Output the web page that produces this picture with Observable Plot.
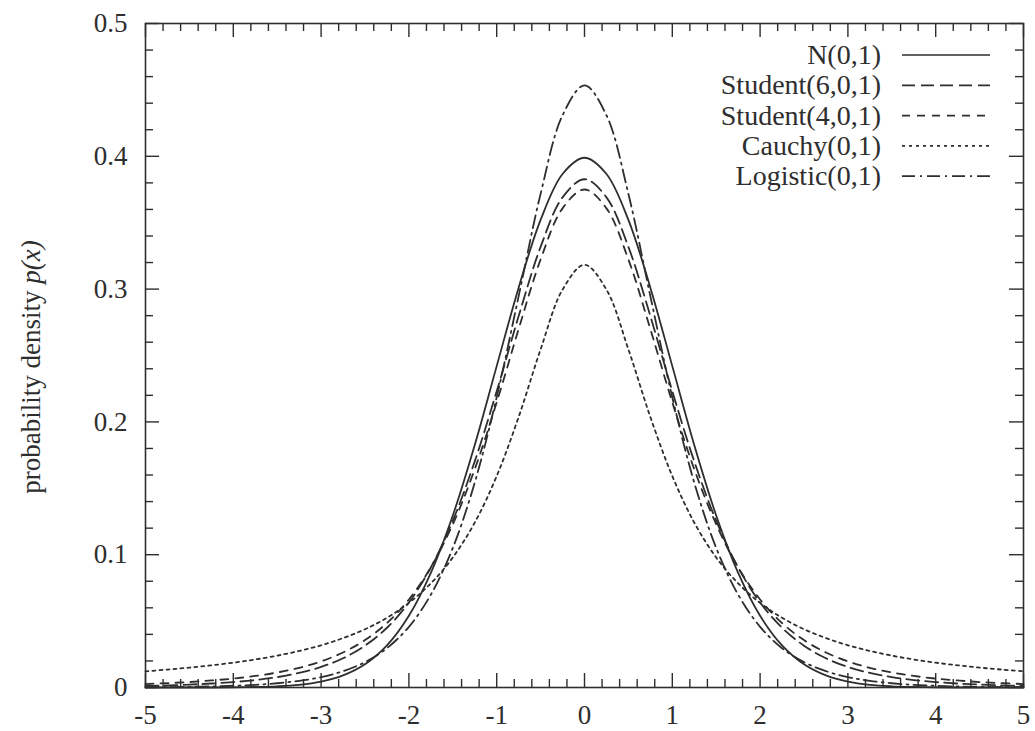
<!DOCTYPE html>
<html>
<head>
<meta charset="utf-8">
<script src="https://cdn.jsdelivr.net/npm/d3@7"></script>
<script src="https://cdn.jsdelivr.net/npm/@observablehq/plot@0.6"></script>
<style>
  body { margin: 0; background: #fff; }
  #chart svg { display: block; }
</style>
</head>
<body>
<div id="chart"></div>
<script>
// x positions of the sampled curve points
const xs = [-5,-4.75,-4.5,-4.25,-4,-3.75,-3.5,-3.25,-3,-2.75,-2.5,-2.25,-2,-1.75,-1.5,-1.25,-1,-0.75,-0.5,-0.25,
  0,0.25,0.5,0.75,1,1.25,1.5,1.75,2,2.25,2.5,2.75,3,3.25,3.5,3.75,4,4.25,4.5,4.75,5];

// densities
const normal = [0.0000,0.0000,0.0000,0.0000,0.0001,0.0004,0.0009,0.0020,0.0044,0.0091,0.0175,0.0317,0.0540,0.0863,0.1295,0.1826,0.2420,0.3011,0.3521,0.3867,
  0.3989,0.3867,0.3521,0.3011,0.2420,0.1826,0.1295,0.0863,0.0540,0.0317,0.0175,0.0091,0.0044,0.0020,0.0009,0.0004,0.0001,0.0000,0.0000,0.0000,0.0000];
const student6 = [0.0012,0.0016,0.0022,0.0030,0.0041,0.0056,0.0078,0.0110,0.0155,0.0220,0.0315,0.0450,0.0640,0.0904,0.1256,0.1703,0.2231,0.2797,0.3318,0.3691,
  0.3827,0.3691,0.3318,0.2797,0.2231,0.1703,0.1256,0.0904,0.0640,0.0450,0.0315,0.0220,0.0155,0.0110,0.0078,0.0056,0.0041,0.0030,0.0022,0.0016,0.0012];
const student4 = [0.0026,0.0033,0.0041,0.0053,0.0067,0.0087,0.0113,0.0148,0.0197,0.0264,0.0357,0.0485,0.0663,0.0905,0.1229,0.1644,0.2147,0.2699,0.3223,0.3608,
  0.3750,0.3608,0.3223,0.2699,0.2147,0.1644,0.1229,0.0905,0.0663,0.0485,0.0357,0.0264,0.0197,0.0148,0.0113,0.0087,0.0067,0.0053,0.0041,0.0033,0.0026];
const cauchy = [0.0122,0.0135,0.0150,0.0167,0.0187,0.0211,0.0240,0.0275,0.0318,0.0372,0.0439,0.0525,0.0637,0.0784,0.0979,0.1242,0.1592,0.2037,0.2546,0.2996,
  0.3183,0.2996,0.2546,0.2037,0.1592,0.1242,0.0979,0.0784,0.0637,0.0525,0.0439,0.0372,0.0318,0.0275,0.0240,0.0211,0.0187,0.0167,0.0150,0.0135,0.0122];
const logistic = [0.0002,0.0003,0.0005,0.0008,0.0013,0.0020,0.0032,0.0050,0.0078,0.0123,0.0191,0.0296,0.0457,0.0699,0.1051,0.1543,0.2186,0.2947,0.3717,0.4309,
  0.4534,0.4309,0.3717,0.2947,0.2186,0.1543,0.1051,0.0699,0.0457,0.0296,0.0191,0.0123,0.0078,0.0050,0.0032,0.0020,0.0013,0.0008,0.0005,0.0003,0.0002];

const seriesNames = ["N(0,1)", "Student(6,0,1)", "Student(4,0,1)", "Cauchy(0,1)", "Logistic(0,1)"];
const seriesValues = [normal, student6, student4, cauchy, logistic];
const seriesDash = [null, "13,6", "8,7", "3,4", "13,5,2,5"];

// tick values
const xTicks = [-5,-4,-3,-2,-1,0,1,2,3,4,5];
const yTicks = [0,0.1,0.2,0.3,0.4,0.5];
const xMinor = d3.range(-50, 51, 2).filter(d => d % 10 !== 0).map(d => d / 10);
const yMinor = d3.range(0, 51, 2).filter(d => d % 10 !== 0).map(d => d / 100);

const W = 1035, H = 731;
const mL = 145, mR = 12, mT = 23, mB = 44;
const plotW = W - mL - mR, plotH = H - mT - mB;
const ink = "#2e2e2e";
const major = 14, minor = 8;

const rows = seriesNames.flatMap((name, i) =>
  xs.map((x, j) => ({series: name, x, y: seriesValues[i][j]})));

const lineMarks = seriesNames.map((name, i) =>
  Plot.line(rows.filter(d => d.series === name), {
    x: "x", y: "y", stroke: ink, strokeWidth: 1.8,
    strokeDasharray: seriesDash[i] ?? undefined,
    curve: "catmull-rom"
  }));

const chart = Plot.plot({
  width: W, height: H,
  marginLeft: mL, marginRight: mR, marginTop: mT, marginBottom: mB,
  style: {fontFamily: "'Liberation Serif', 'DejaVu Serif', serif", fontSize: "27px", color: ink, background: "#fff"},
  x: {domain: [-5, 5]},
  y: {domain: [0, 0.5]},
  marks: [
    Plot.frame({stroke: ink, strokeWidth: 1.6}),
    Plot.ruleX(xTicks, {stroke: ink, strokeWidth: 1.4, insetTop: plotH - major}),
    Plot.ruleX(xTicks, {stroke: ink, strokeWidth: 1.4, insetBottom: plotH - major}),
    Plot.ruleX(xMinor, {stroke: ink, strokeWidth: 1.4, insetTop: plotH - minor}),
    Plot.ruleX(xMinor, {stroke: ink, strokeWidth: 1.4, insetBottom: plotH - minor}),
    Plot.ruleY(yTicks, {stroke: ink, strokeWidth: 1.4, insetRight: plotW - major}),
    Plot.ruleY(yTicks, {stroke: ink, strokeWidth: 1.4, insetLeft: plotW - major}),
    Plot.ruleY(yMinor, {stroke: ink, strokeWidth: 1.4, insetRight: plotW - minor}),
    Plot.ruleY(yMinor, {stroke: ink, strokeWidth: 1.4, insetLeft: plotW - minor}),
    Plot.axisX({ticks: xTicks, tickSize: 0, tickPadding: 17, tickFormat: d => String(d), fontSize: 27, fill: ink, label: null}),
    Plot.axisY({ticks: yTicks, tickSize: 0, tickPadding: 18, tickFormat: d => String(d), fontSize: 27, fill: ink, label: null}),
    ...lineMarks
  ]
});

document.getElementById("chart").append(chart);

// y-axis title and in-frame legend
const svg = d3.select(chart);
const ylab = svg.append("text")
  .attr("transform", "translate(40,367) rotate(-90)")
  .attr("text-anchor", "middle")
  .attr("font-size", 27)
  .attr("fill", ink);
ylab.append("tspan").text("probability density ");
ylab.append("tspan").attr("font-style", "italic").text("p(x)");

const legend = svg.append("g");
seriesNames.forEach((name, i) => {
  const cy = 55 + i * 30.3;
  legend.append("text")
    .attr("x", 881).attr("y", cy + 9)
    .attr("text-anchor", "end")
    .attr("font-size", 28)
    .attr("fill", ink)
    .text(name);
  legend.append("line")
    .attr("x1", 902).attr("x2", 990)
    .attr("y1", cy).attr("y2", cy)
    .attr("stroke", ink).attr("stroke-width", 1.7)
    .attr("stroke-dasharray", seriesDash[i]);
});
</script>
</body>
</html>
